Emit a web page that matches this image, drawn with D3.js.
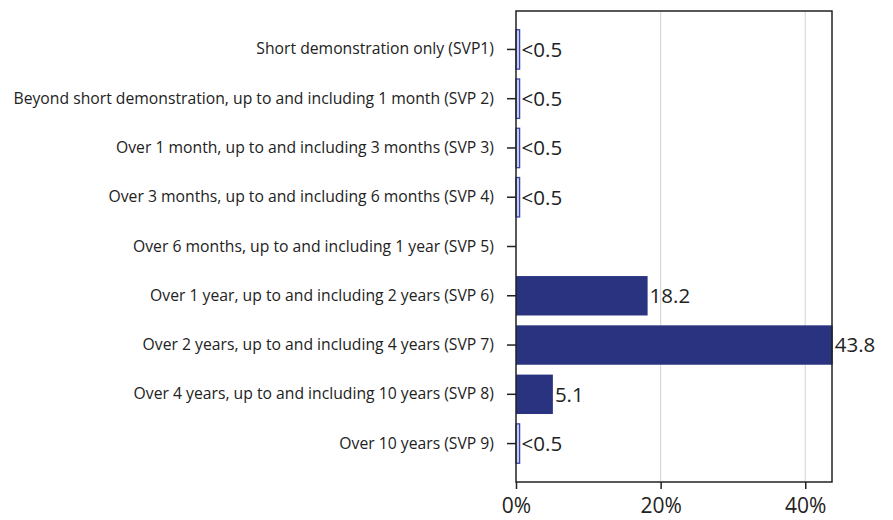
<!DOCTYPE html>
<html>
<head>
<meta charset="utf-8">
<script src="https://cdn.jsdelivr.net/npm/d3@7"></script>
<style>
body{margin:0;background:#fff;}
text{font-family:"Open Sans","Liberation Sans",sans-serif;}
</style>
</head>
<body>
<div class="canvas"></div>
<script>
// data
const categories=[
 "Short demonstration only (SVP1)",
 "Beyond short demonstration, up to and including 1 month (SVP 2)",
 "Over 1 month, up to and including 3 months (SVP 3)",
 "Over 3 months, up to and including 6 months (SVP 4)",
 "Over 6 months, up to and including 1 year (SVP 5)",
 "Over 1 year, up to and including 2 years (SVP 6)",
 "Over 2 years, up to and including 4 years (SVP 7)",
 "Over 4 years, up to and including 10 years (SVP 8)",
 "Over 10 years (SVP 9)"
];
const values=[0.5,0.5,0.5,0.5,0,18.2,43.8,5.1,0.5];
const valueLabels=["<0.5","<0.5","<0.5","<0.5","","18.2","43.8","5.1","<0.5"];
const xTicks=[0,20,40];

const svg=d3.select('.canvas').append('svg')
.attr("width",893)
.attr('height',520);

const margin={left:516,top:11,right:61,bottom:38};
const graphWidth=893-margin.left-margin.right;
const graphHeight=520-margin.top-margin.bottom;

const graph=svg.append('g')
.attr("transform",`translate(${margin.left},${margin.top})`);

const x=d3.scaleLinear()
.domain([0,43.7])
.range([0,graphWidth]);

const y=d3.scaleBand()
.domain(categories)
.range([0,graphHeight])
.paddingInner(0.2)
.paddingOuter(0.38);

// gridlines
graph.selectAll('line.grid')
.data(xTicks.filter(d=>d>0))
.enter().append('line')
.attr("class","grid")
.attr("x1",d=>x(d)).attr("x2",d=>x(d))
.attr("y1",0).attr("y2",graphHeight)
.attr("stroke","#d9d9d9")
.attr("stroke-width",1.2);

// bars
graph.selectAll('rect.bar')
.data(values)
.enter().append('rect')
.attr("class","bar")
.attr("x",0)
.attr("y",(d,i)=>y(categories[i]))
.attr("height",y.bandwidth())
.attr("width",d=>x(d))
.attr("fill",d=>d<1?"#c9cdf0":"#29337f")
.attr("stroke",d=>d<1?"#3a47aa":"none")
.attr("stroke-width",1.3)
.style("display",d=>d>0?null:"none");

// value labels
graph.selectAll('text.val')
.data(values)
.enter().append('text')
.attr("class","val")
.attr("x",d=>x(d)+2)
.attr("y",(d,i)=>y(categories[i])+y.bandwidth()/2)
.attr("dy","0.36em")
.attr("font-size",20.5)
.attr("fill","#222")
.text((d,i)=>valueLabels[i]);

// frame
graph.append('rect')
.attr("x",0).attr("y",0)
.attr("width",graphWidth).attr("height",graphHeight)
.attr("fill","none")
.attr("stroke","#222")
.attr("stroke-width",1.5);

// axes
const xAxisGroup=graph.append('g')
.attr("transform",`translate(0,${graphHeight})`);
const yAxisGroup=graph.append('g');

const xAxis=d3.axisBottom(x).tickValues(xTicks).tickSize(7).tickFormat(d=>`${d}%`);
const yAxis=d3.axisLeft(y).tickSize(9).tickPadding(13);

xAxisGroup.call(xAxis);
yAxisGroup.call(yAxis);

xAxisGroup.select('.domain').remove();
yAxisGroup.select('.domain').remove();

xAxisGroup.selectAll('line').attr("stroke","#222").attr("stroke-width",1.5);
yAxisGroup.selectAll('line').attr("stroke","#222").attr("stroke-width",1.5);

xAxisGroup.selectAll('text')
.attr("font-size",21)
.attr("fill","#222")
.attr("y",12)
.attr("dy","0.9em")
.style("font-family",'"Open Sans","Liberation Sans",sans-serif');

const yLabels=yAxisGroup.selectAll('text')
.attr("font-size",15)
.attr("fill","#222")
.style("font-family",'"Open Sans","Liberation Sans",sans-serif');

// scale font so the longest label spans like the original
let longest=0;
yLabels.each(function(){longest=Math.max(longest,this.getComputedTextLength());});
yLabels.attr("font-size",15*481/longest);
</script>
</body>
</html>
